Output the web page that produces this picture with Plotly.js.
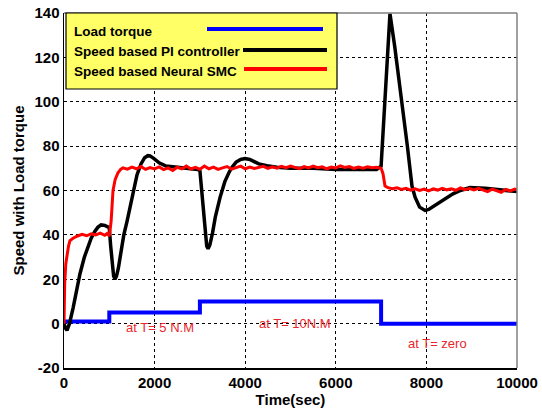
<!DOCTYPE html>
<html><head><meta charset="utf-8">
<script src="https://cdn.plot.ly/plotly-3.0.1.min.js"></script>
<style>html,body{margin:0;padding:0;background:#fff}#c{width:542px;height:419px}</style>
</head><body><div id="c"></div>
<script>
// Load torque (step profile)
var torqueT = [0, 1000, 3000, 7000, 10000];
var torqueV = [1, 5, 10, 0, 0];

// Speed based PI controller
var piT = [0,30,66,120,200,280,353,450,530,600,680,750,820,900,980,1000,1030,1060,1095,1126,1160,1200,1260,1320,1390,1450,1530,1611,1700,1780,1850,1900,1980,2100,2250,2500,2700,2950,3000,3030,3070,3110,3150,3180,3220,3280,3340,3444,3550,3640,3709,3800,3900,3996,4100,4200,4300,4481,4700,5000,5500,6000,6500,6900,7000,7060,7130,7196,7300,7461,7580,7682,7750,7850,7969,8050,8150,8300,8450,8587,8750,8962,9300,9600,10000];
var piV = [0,-2,-3,0,7,15,22.5,30,35,38.5,41.5,43.5,44.5,44.3,43.5,43,35,27,21.5,20,21.5,25,33,40,46,52,60,67,72,74.8,75.7,75.6,74.5,72.5,71,70.5,70,69.5,69,62,50,40,35,33.8,35.5,41,48,56.8,64,68,70.5,72.8,74,74.4,74,73,72,71.2,70.5,70,70,69.5,69.5,69.5,71,92,118,139.7,125,100,80,62,57,52.5,51,51.5,52.8,54.5,56.7,58.5,60,61.3,61,60.5,59.5];

// Speed based Neural SMC
var smcT = [0,15,40,66,100,132,200,300,400,500,600,700,800,900,950,1000,1040,1082,1130,1192,1250,1300,1400,1500,1600,1700,1800,1900,2000,2100,2200,2300,2400,2500,2600,2700,2800,2900,3000,3100,3200,3300,3400,3500,3600,3700,3800,3900,4000,4100,4200,4300,4400,4500,4600,4700,4800,4900,5000,5100,5200,5300,5400,5500,5600,5700,5800,5900,6000,6100,6200,6300,6400,6500,6600,6700,6800,6900,7000,7042,7086,7152,7250,7350,7450,7550,7650,7750,7850,7950,8050,8150,8250,8350,8450,8550,8650,8750,8850,8950,9050,9150,9250,9350,9450,9550,9650,9750,9850,9950,10000];
var smcV = [0,18,27,31.5,35,37.4,38.5,39.5,40.2,39.6,40.5,40,40.8,39.8,40.6,39.5,46,60,65,68,69.5,70.2,69.6,70.5,69.8,70.8,69.5,70.3,69.7,70.6,69.4,70.2,69,70.5,69.8,71,69.7,70.4,69.6,71,69.8,70.5,69.5,70.2,70.8,69.6,70.3,71,69.8,70.6,69.9,70.5,70.9,70,70.7,70.1,70.9,70.3,71,70.4,69.8,70.8,70.2,71,70.3,70.7,69.8,70.6,70.2,71.1,70.4,70.8,70,70.6,70.1,70.7,70.3,70.5,70,67.6,62,61.3,60.8,61.2,60.5,61,60.2,60.8,60,60.6,59.8,60.7,60.2,61,60.3,60.8,60.1,61.2,60.4,60.9,60.3,61,60.2,59.5,60.6,60,59.2,60.5,59.8,60.6,60.3];

var seriesNames = ['Load torque', 'Speed based PI controller', 'Speed based Neural SMC'];
var seriesColors = ['#0000ff', '#000000', '#ff0000'];
var xTicks = [0, 2000, 4000, 6000, 8000, 10000];
var yTicks = [-20, 0, 20, 40, 60, 80, 100, 120, 140];
var notes = ['at T= 5 N.M', 'at T= 10N.M', 'at T= zero'];
var noteX = [2119, 5099, 8234];
var noteY = [-1.8, 0, -9];

var traces = [
  {x: torqueT, y: torqueV, mode: 'lines', line: {color: seriesColors[0], width: 4, shape: 'hv'}, name: seriesNames[0]},
  {x: piT, y: piV, mode: 'lines', line: {color: seriesColors[1], width: 3.5}, name: seriesNames[1]},
  {x: smcT, y: smcV, mode: 'lines', line: {color: seriesColors[2], width: 3}, name: seriesNames[2]}
];

var bold = 'Arial, "Liberation Sans", sans-serif';
var annotations = notes.map(function (t, i) {
  return {x: noteX[i], y: noteY[i], xref: 'x', yref: 'y', text: t, showarrow: false,
    font: {family: '"Liberation Sans Narrow", "Arial Narrow", Arial, sans-serif', size: 13, color: '#e8262b'}};
});
var legY = [31, 52, 71];
var legLineX = [[207, 323], [243, 327], [244, 327]];
var shapes = [
  {type: 'line', xref: 'paper', yref: 'paper', x0: 0, x1: 1, y0: 1, y1: 1, line: {color: '#808080', width: 1.5}},
  {type: 'line', xref: 'paper', yref: 'paper', x0: 1, x1: 1, y0: 0, y1: 1, line: {color: '#808080', width: 1.5}},
  {type: 'rect', xref: 'paper', yref: 'paper', x0: (66 - 64) / 453, x1: (337 - 64) / 453, y0: (368 - 89) / 355, y1: 1,
   fillcolor: '#ffff66', line: {color: '#000', width: 1.2}, layer: 'above'}
];
seriesNames.forEach(function (n, i) {
  var py = (368 - legY[i]) / 355;
  annotations.push({xref: 'paper', yref: 'paper', x: (72 - 64) / 453, y: py, xanchor: 'left', yanchor: 'middle',
    text: '<b>' + n + '</b>', showarrow: false, font: {family: bold, size: 13.5, color: '#000'}});
  shapes.push({type: 'line', xref: 'paper', yref: 'paper', x0: (legLineX[i][0] - 64) / 453, x1: (legLineX[i][1] - 64) / 453,
    y0: (368 - (legY[i] - 2)) / 355, y1: (368 - (legY[i] - 2)) / 355, line: {color: seriesColors[i], width: 4}, layer: 'above'});
});

var layout = {
  width: 542, height: 419,
  margin: {l: 64, r: 25, t: 13, b: 51},
  paper_bgcolor: '#fff', plot_bgcolor: '#fff',
  showlegend: false,
  font: {family: bold, color: '#000'},
  xaxis: {range: [0, 10000], tickvals: xTicks, ticktext: xTicks.map(function(v){return '<b>'+v+'</b>';}),
    showgrid: true, gridcolor: '#000', griddash: '3px,3px', gridwidth: 1,
    showline: true, linecolor: '#000', linewidth: 1.5, zeroline: false, ticks: '',
    tickfont: {size: 15, family: bold},
    title: {text: '<b>Time(sec)</b>', font: {size: 15, family: bold}, standoff: 2}},
  yaxis: {range: [-20, 140], tickvals: yTicks, ticktext: yTicks.map(function(v){return '<b>'+v+'</b>';}),
    showgrid: true, gridcolor: '#000', griddash: '3px,3px', gridwidth: 1,
    showline: true, linecolor: '#000', linewidth: 1.5, zeroline: false, ticks: '',
    tickfont: {size: 15, family: bold},
    title: {text: '<b>Speed with Load torque</b>', font: {size: 15, family: bold}, standoff: 6}},
  annotations: annotations,
  shapes: shapes
};
Plotly.newPlot('c', traces, layout, {displayModeBar: false, staticPlot: true});
</script></body></html>
